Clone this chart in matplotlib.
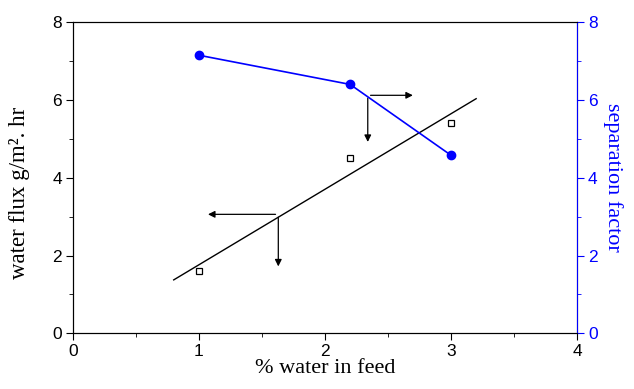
import numpy as np
import matplotlib.pyplot as plt
from matplotlib.ticker import MultipleLocator

water_feed = [1.0, 2.2, 3.0]
water_flux = [1.6, 4.5, 5.4]
sep_factor = [7.15, 6.4, 4.58]
fit_range = [0.8, 3.2]

slope, intercept = np.polyfit(water_feed, water_flux, 1)
fit_x = np.array(fit_range)
fit_y = slope * fit_x + intercept

plt.rcParams['font.family'] = ['Liberation Sans', 'DejaVu Sans']

fig, ax = plt.subplots(figsize=(6.34, 3.89), dpi=100)
fig.subplots_adjust(left=0.115, right=0.91, top=0.943, bottom=0.143)

ax.plot(fit_x, fit_y, color='black', lw=1.0)
ax.plot(water_feed, water_flux, 's', mfc='white', mec='black', ms=5, mew=0.9)
ax.set_xlim(0, 4)
ax.set_ylim(0, 8)
ax.xaxis.set_major_locator(MultipleLocator(1))
ax.xaxis.set_minor_locator(MultipleLocator(0.5))
ax.yaxis.set_major_locator(MultipleLocator(2))
ax.yaxis.set_minor_locator(MultipleLocator(1))
ax.tick_params(which='both', direction='out', labelsize=12.5, top=False, right=False)
ax.tick_params(which='major', length=5, pad=3)
ax.tick_params(which='minor', length=3)
ax.set_xlabel('% water in feed', family='Liberation Serif', fontsize=16, labelpad=0)
ax.set_ylabel('water flux g/m². hr', family='Liberation Serif', fontsize=16.5)
ax.yaxis.set_label_coords(-0.085, 0.45)

ax2 = ax.twinx()
ax2.plot(water_feed, sep_factor, '-o', color='#0000ff', lw=1.2, ms=6)
ax2.set_ylim(0, 8)
ax2.yaxis.set_major_locator(MultipleLocator(2))
ax2.yaxis.set_minor_locator(MultipleLocator(1))
ax2.tick_params(which='both', direction='out', colors='#0000ff', labelsize=12.5)
ax2.tick_params(which='major', length=5, pad=3)
ax2.tick_params(which='minor', length=3)
ax2.spines['right'].set_color('#0000ff')
ax2.set_ylabel('separation factor', family='Liberation Serif', fontsize=16,
               color='#0000ff', rotation=270, labelpad=18)

arrow = dict(arrowstyle='-|>', color='black', lw=0.9, mutation_scale=10)
# arrows point to each curve's axis
ax.annotate('', xy=(2.72, 6.12), xytext=(2.34, 6.12), arrowprops=arrow)
ax.annotate('', xy=(2.34, 4.85), xytext=(2.34, 6.12), arrowprops=arrow)
ax.annotate('', xy=(1.05, 3.06), xytext=(1.63, 3.06), arrowprops=arrow)
ax.annotate('', xy=(1.63, 1.65), xytext=(1.63, 3.06), arrowprops=arrow)

fig.savefig('out.png', dpi=100)
